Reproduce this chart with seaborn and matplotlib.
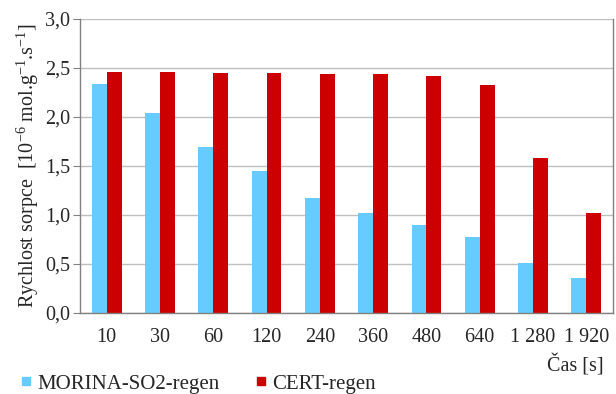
import matplotlib
matplotlib.use("Agg")
import matplotlib.pyplot as plt
from matplotlib.lines import Line2D
import seaborn as sns
import pandas as pd

categories = ["10", "30", "60", "120", "240", "360", "480", "640", "1 280", "1 920"]
morina = [2.34, 2.04, 1.69, 1.45, 1.17, 1.02, 0.90, 0.77, 0.51, 0.36]
cert = [2.46, 2.46, 2.45, 2.45, 2.44, 2.44, 2.42, 2.33, 1.58, 1.02]
series = ["MORINA-SO2-regen", "CERT-regen"]
colors = ["#66CCFF", "#CC0000"]

df = pd.DataFrame({
    "cas": categories * 2,
    "rychlost": morina + cert,
    "serie": [series[0]] * len(categories) + [series[1]] * len(categories),
})

sns.set_style("white")
plt.rcParams["font.family"] = ["Liberation Serif", "DejaVu Serif"]
plt.rcParams["mathtext.fontset"] = "custom"
plt.rcParams["mathtext.rm"] = "Liberation Serif"
plt.rcParams["mathtext.it"] = "Liberation Serif"

fig = plt.figure(figsize=(6.16, 3.94), dpi=100)
ax = fig.add_axes([0.130, 0.206, 0.865, 0.746])

sns.barplot(data=df, x="cas", y="rychlost", hue="serie", order=categories,
            hue_order=series, palette=colors, width=0.56, gap=0,
            edgecolor="none", linewidth=0, saturation=1, ax=ax, legend=False)

ax.set_ylim(0, 3.0)
ax.set_xlim(-0.5, len(categories) - 0.5)
ax.set_yticks([0, 0.5, 1.0, 1.5, 2.0, 2.5, 3.0])
ax.set_yticklabels(["0,0", "0,5", "1,0", "1,5", "2,0", "2,5", "3,0"], fontsize=14.5)
ax.set_xticks(range(len(categories)))
ax.set_xticklabels(categories, fontsize=14.5)
ax.set_xticks([i - 0.5 for i in range(len(categories) + 1)], minor=True)
ax.tick_params(axis="x", which="major", length=0, pad=11)
ax.tick_params(axis="x", which="minor", length=5, width=0.8, color="#808080", direction="out")
ax.tick_params(axis="y", length=5, width=0.8, color="#808080", direction="out", pad=2, left=True)

ax.yaxis.grid(True, color="#BFBFBF", linewidth=1.0)
ax.set_axisbelow(True)
for side in ["left", "bottom", "right"]:
    ax.spines[side].set_visible(True)
    ax.spines[side].set_color("#808080")
    ax.spines[side].set_linewidth(1.0)
ax.spines["top"].set_visible(False)

ax.set_xlabel("")
ax.set_ylabel(r"Rychlost sorpce  [10$^{-6}$ mol.g$^{-1}$.s$^{-1}$]", fontsize=14.5, labelpad=3)
fig.text(0.980, 0.073, "Čas [s]", ha="right", va="center", fontsize=14.5)

handles = [Line2D([0], [0], marker="s", linestyle="none", markersize=5.5,
                  markerfacecolor=c, markeredgecolor=c) for c in colors]
fig.legend(handles, series, loc="center left", bbox_to_anchor=(0.0325, 0.026),
           ncol=2, frameon=False, fontsize=15, handletextpad=0.25,
           columnspacing=1.65, borderaxespad=0, borderpad=0, handlelength=0.6)

fig.savefig("out.png", dpi=100)
